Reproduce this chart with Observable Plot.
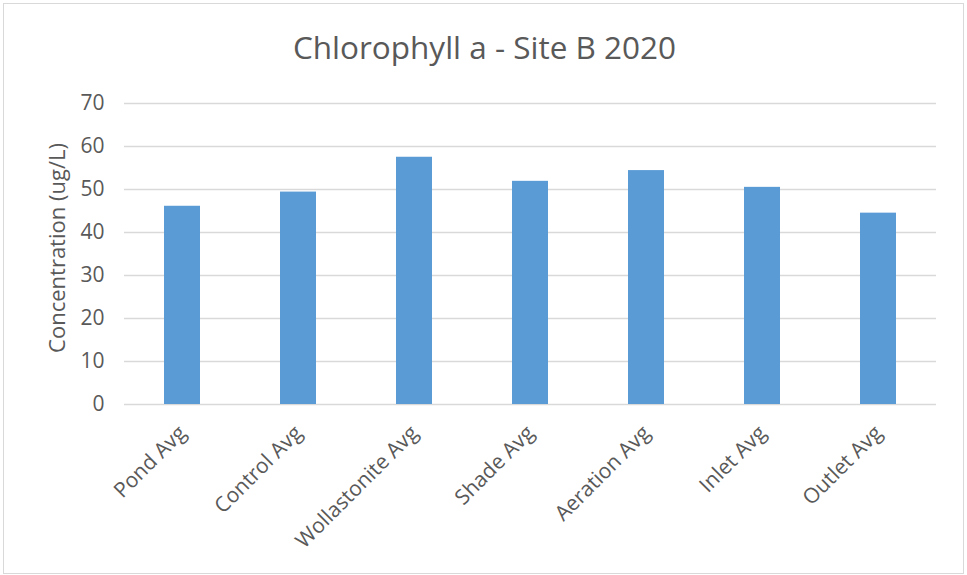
<!DOCTYPE html>
<html>
<head>
<meta charset="utf-8">
<script src="https://cdn.jsdelivr.net/npm/d3@7"></script>
<script src="https://cdn.jsdelivr.net/npm/@observablehq/plot@0.6"></script>
<style>
  html, body { margin: 0; padding: 0; background: #fff; }
  #wrap { position: relative; width: 967px; height: 575px; }
  #frame { position: absolute; left: 3px; top: 3px; width: 961px; height: 571px; border: 1px solid #D9D9D9; box-sizing: border-box; pointer-events: none; }
</style>
</head>
<body>
<div id="wrap"><div id="frame"></div></div>
<script>
const title = "Chlorophyll a - Site B 2020";
const yLabel = "Concentration (ug/L)";
const categories = ["Pond Avg", "Control Avg", "Wollastonite Avg", "Shade Avg", "Aeration Avg", "Inlet Avg", "Outlet Avg"];
const values = [46.1, 49.4, 57.5, 51.9, 54.4, 50.5, 44.5];
const yTicks = [0, 10, 20, 30, 40, 50, 60, 70];

const data = categories.map((c, i) => ({category: c, value: values[i]}));
const font = "'Open Sans', sans-serif";

const chart = Plot.plot({
  width: 967,
  height: 575,
  marginLeft: 124,
  marginRight: 31,
  marginTop: 103,
  marginBottom: 171,
  style: {fontFamily: font, fontSize: "21px", color: "#595959", background: "transparent"},
  x: {domain: categories, paddingInner: 0.69, paddingOuter: 0.345, label: null},
  y: {domain: [0, 70], ticks: yTicks, label: null},
  marks: [
    Plot.gridY(yTicks, {stroke: "#D9D9D9", strokeOpacity: 1, strokeWidth: 1.3}),
    Plot.barY(data, {x: "category", y: "value", fill: "#5B9BD5"}),
    Plot.axisY(yTicks, {tickSize: 0, tickPadding: 20, fontSize: 21, fill: "#595959", label: null}),
    Plot.axisX({tickSize: 0, tickRotate: -45, tickPadding: 25, fontSize: 21, fill: "#595959", label: null}),
    Plot.text([yLabel], {frameAnchor: "left", textAnchor: "middle", dx: -67, dy: -6, rotate: -90, fontSize: 22, fill: "#595959", text: d => d}),
    Plot.text([title], {frameAnchor: "top", dx: -46, dy: -67, fontSize: 31.5, fill: "#595959", text: d => d})
  ]
});
document.getElementById("wrap").prepend(chart);
</script>
</body>
</html>
